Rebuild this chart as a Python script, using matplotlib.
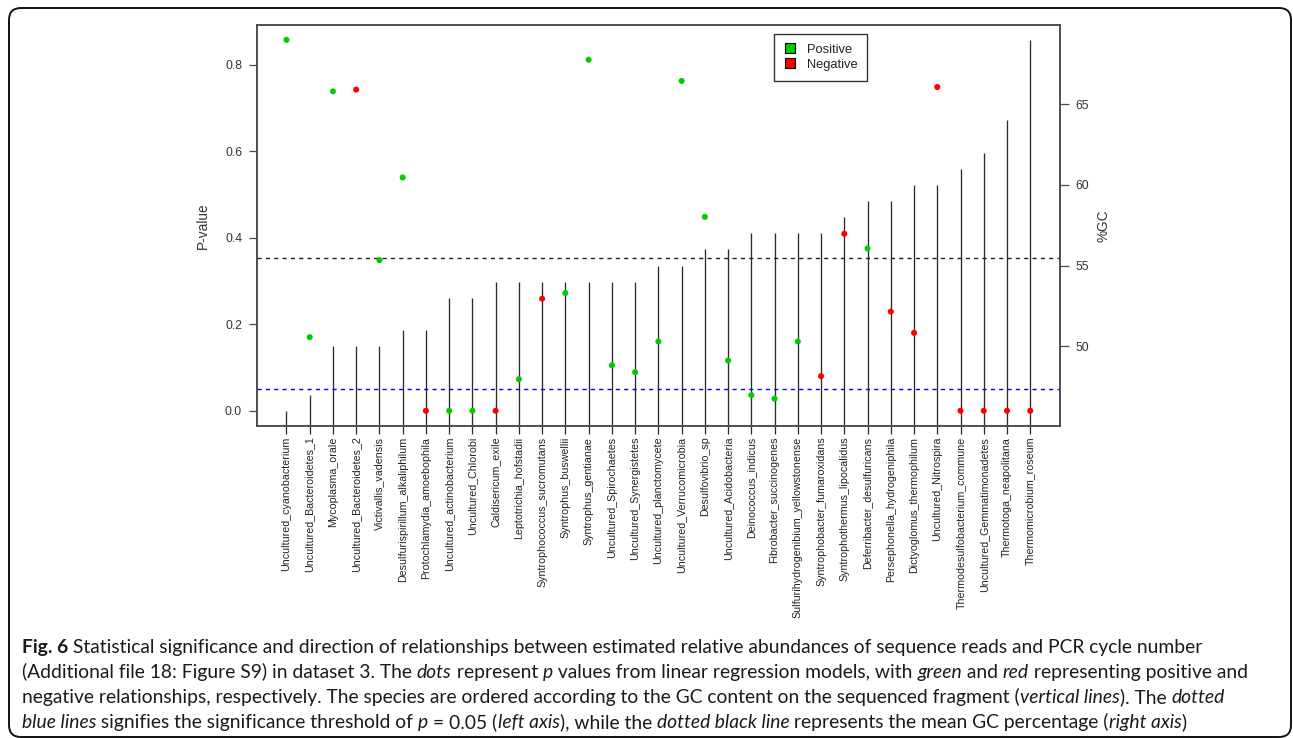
import numpy as np
import matplotlib
matplotlib.use("Agg")
import matplotlib.pyplot as plt
from matplotlib import font_manager
from matplotlib.lines import Line2D
from matplotlib.patches import FancyBboxPatch
from matplotlib.transforms import IdentityTransform

# ---------------- data ----------------
species = [
    "Uncultured_cyanobacterium", "Uncultured_Bacteroidetes_1", "Mycoplasma_orale",
    "Uncultured_Bacteroidetes_2", "Victivallis_vadensis", "Desulfurispirillum_alkaliphilum",
    "Protochlamydia_amoebophila", "Uncultured_actinobacterium", "Uncultured_Chlorobi",
    "Caldisericum_exile", "Leptotrichia_hofstadii", "Syntrophococcus_sucromutans",
    "Syntrophus_buswellii", "Syntrophus_gentianae", "Uncultured_Spirochaetes",
    "Uncultured_Synergistetes", "Uncultured_planctomycete", "Uncultured_Verrucomicrobia",
    "Desulfovibrio_sp", "Uncultured_Acidobacteria", "Deinococcus_indicus",
    "Fibrobacter_succinogenes", "Sulfurihydrogenibium_yellowstonense",
    "Syntrophobacter_fumaroxidans", "Syntrophothermus_lipocalidus",
    "Deferribacter_desulfuricans", "Persephonella_hydrogeniphila",
    "Dictyoglomus_thermophilum", "Uncultured_Nitrospira", "Thermodesulfobacterium_commune",
    "Uncultured_Gemmatimonadetes", "Thermotoga_neapolitana", "Thermomicrobium_roseum",
]
gc_content = [46, 47, 50, 50, 50, 51, 51, 53, 53, 54, 54, 54, 54, 54, 54, 54, 55,
              55, 56, 56, 57, 57, 57, 57, 58, 59, 59, 60, 60, 61, 62, 64, 69]
p_values = [0.857, 0.170, 0.738, 0.742, 0.348, 0.539, 0.0, 0.0, 0.0, 0.0, 0.073,
            0.259, 0.272, 0.811, 0.105, 0.089, 0.160, 0.762, 0.448, 0.116, 0.036,
            0.028, 0.160, 0.080, 0.409, 0.375, 0.229, 0.180, 0.748, 0.0, 0.0, 0.0, 0.0]
direction = ["Positive", "Positive", "Positive", "Negative", "Positive", "Positive",
             "Negative", "Positive", "Positive", "Negative", "Positive", "Negative",
             "Positive", "Positive", "Positive", "Positive", "Positive", "Positive",
             "Positive", "Positive", "Positive", "Positive", "Positive", "Negative",
             "Negative", "Positive", "Negative", "Negative", "Negative", "Negative",
             "Negative", "Negative", "Negative"]
p_threshold = 0.05
left_ticks = [0.0, 0.2, 0.4, 0.6, 0.8]
right_ticks = [50, 55, 60, 65]
legend_labels = ["Positive", "Negative"]

GREEN = "#00CD00"
RED = "#FF0000"
dir_colors = {"Positive": GREEN, "Negative": RED}

# ---------------- fonts ----------------
available = {f.name for f in font_manager.fontManager.ttflist}
chart_font = ["Liberation Sans", "DejaVu Sans"]
cap_font = "Liberation Sans Narrow" if "Liberation Sans Narrow" in available else "Lato"
plt.rcParams["font.family"] = chart_font

W, H = 1293, 738
fig = plt.figure(figsize=(W / 100, H / 100), dpi=100)

# axes box in pixels: left 256.7, right 1060, top 25, bottom 425.6
L, R_, T, B = 256.7, 1060.0, 25.0, 425.6
ax = fig.add_axes([L / W, 1 - B / H, (R_ - L) / W, (B - T) / H])
ax2 = ax.twinx()

x = np.arange(1, len(species) + 1)
pad_x = 0.04 * (x.max() - x.min())
ax.set_xlim(x.min() - pad_x, x.max() + pad_x)

p_arr = np.array(p_values)
pr = p_arr.max() - p_arr.min()
ax.set_ylim(p_arr.min() - 0.04 * pr, p_arr.max() + 0.04 * pr)
gc_arr = np.array(gc_content)
gr = gc_arr.max() - gc_arr.min()
ax2.set_ylim(gc_arr.min() - 0.04 * gr, gc_arr.max() + 0.04 * gr)

LINE_C = "#2a2a2a"
BOX_C = "#4a4a4a"
TXT_C = "#333333"

# vertical GC lines (type = "h")
ax2.vlines(x, 0, gc_arr, color=LINE_C, lw=0.95)
ax2.axhline(np.mean(gc_arr), color="#222222", lw=1.0, ls=(0, (3, 3)))

# p-values
ax.axhline(p_threshold, color="#0000FF", lw=1.0, ls=(0, (3, 3)))
ax.scatter(x, p_arr, c=[dir_colors[d] for d in direction], s=19,
           edgecolors="none", zorder=3)
ax.set_zorder(ax2.get_zorder() + 1)
ax.patch.set_visible(False)

for a in (ax, ax2):
    for sp in a.spines.values():
        sp.set_color(BOX_C)
        sp.set_linewidth(1.1)

ax.set_yticks(left_ticks)
ax.set_yticklabels([f"{v:.1f}" for v in left_ticks])
ax.tick_params(axis="y", length=6, width=0.9, pad=4.5, labelsize=8.8,
               color=BOX_C, labelcolor=TXT_C)
ax2.set_yticks(right_ticks)
ax2.set_yticklabels([str(v) for v in right_ticks])
ax2.tick_params(axis="y", length=6.5, width=0.9, pad=4.5, labelsize=8.8,
                color=BOX_C, labelcolor=TXT_C)
ax.set_xticks(x)
ax.set_xticklabels(species, rotation=90, fontsize=7.7, color="#222222")
ax.tick_params(axis="x", length=5.5, width=0.9, pad=2.5, color=LINE_C)

ax.set_ylabel("P-value", fontsize=9.8, color=TXT_C)
ax.yaxis.set_label_coords((210 - L) / (R_ - L), 0.5)
ax2.set_ylabel("%GC", fontsize=9.8, color=TXT_C)
ax2.yaxis.set_label_coords((1096 - L) / (R_ - L), 0.5)

handles = [Line2D([], [], ls="none", marker="s", markersize=7.2,
                  markerfacecolor=dir_colors[lab], markeredgecolor="black",
                  markeredgewidth=0.8, label=lab) for lab in legend_labels]
leg = ax.legend(handles=handles, loc="upper left",
                bbox_to_anchor=((774.3 - L) / (R_ - L), (B - 34) / (B - T)),
                borderaxespad=0, fontsize=9.3, frameon=True, fancybox=False,
                edgecolor="#333333", framealpha=1, borderpad=0.75,
                handlelength=1.0, handletextpad=0.75, labelspacing=0.25)
leg.get_frame().set_linewidth(1.0)
for t in leg.get_texts():
    t.set_color("#222222")

# ---------------- outer rounded border ----------------
border = FancyBboxPatch((9, H - 737), 1282, 729, boxstyle="round,pad=0,rounding_size=12",
                        transform=IdentityTransform(), fill=False,
                        edgecolor="#111111", lw=1.4)
fig.add_artist(border)

# ---------------- caption ----------------
caption = [
    [("Fig. 6", "b"), (" Statistical significance and direction of relationships between "
      "estimated relative abundances of sequence reads and PCR cycle number", "n")],
    [("(Additional file 18: Figure S9) in dataset 3. The ", "n"), ("dots", "i"),
     (" represent ", "n"), ("p", "i"), (" values from linear regression models, with ", "n"),
     ("green", "i"), (" and ", "n"), ("red", "i"), (" representing positive and", "n")],
    [("negative relationships, respectively. The species are ordered according to the GC "
      "content on the sequenced fragment (", "n"), ("vertical lines", "i"),
     ("). The ", "n"), ("dotted", "i")],
    [("blue lines", "i"), (" signifies the significance threshold of ", "n"), ("p", "i"),
     (" = 0.05 (", "n"), ("left axis", "i"), ("), while the ", "n"),
     ("dotted black line", "i"), (" represents the mean GC percentage (", "n"),
     ("right axis", "i"), (")", "n")],
]
STY = {"n": ("normal", "normal"), "i": ("italic", "normal"), "b": ("normal", "bold")}
renderer = fig.canvas.get_renderer()


def seg_width(s, size, kind):
    st, wt = STY[kind]
    t1 = fig.text(0, 0, s + "|", fontsize=size, family=cap_font, style=st, weight=wt)
    t2 = fig.text(0, 0, "|", fontsize=size, family=cap_font, style=st, weight=wt)
    w = t1.get_window_extent(renderer).width - t2.get_window_extent(renderer).width
    t1.remove()
    t2.remove()
    return w


x0 = 22.0
ref_size = 12.0
w_line2 = sum(seg_width(s, ref_size, k) for s, k in caption[1])
cap_size = ref_size * (1243 - x0) / w_line2
baselines = [653, 678.3, 703.3, 728.3]
for segs, yb in zip(caption, baselines):
    xc = x0
    for s, k in segs:
        st, wt = STY[k]
        fig.text(xc / W, 1 - yb / H, s, fontsize=cap_size, family=cap_font,
                 style=st, weight=wt, va="baseline", ha="left", color="#1a1a1a")
        xc += seg_width(s, cap_size, k)

fig.savefig("out.png", dpi=100)
